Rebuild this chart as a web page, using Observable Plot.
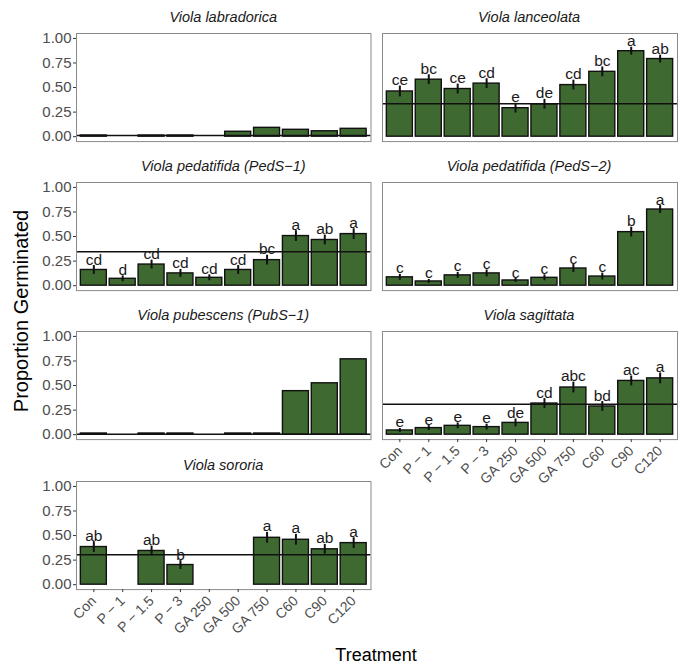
<!DOCTYPE html>
<html><head><meta charset="utf-8">
<script src="https://cdn.jsdelivr.net/npm/d3@7"></script>
<script src="https://cdn.jsdelivr.net/npm/@observablehq/plot@0.6"></script>
<style>
body{margin:0;background:#fff;font-family:"Liberation Sans",Arial,sans-serif;}
#chart{position:relative;width:681px;height:667px;overflow:hidden;background:#fff;}
#chart svg{position:absolute;overflow:visible;}
.ptitle{position:absolute;font-style:italic;font-size:14.5px;color:#1a1a1a;text-align:center;line-height:16px;white-space:nowrap;}
.axlab{position:absolute;color:#000;white-space:nowrap;line-height:22px;}
</style></head><body><div id="chart"></div>
<script>
const treatments = ["Con","P − 1","P − 1.5","P − 3","GA 250","GA 500","GA 750","C60","C90","C120"];
const speciesNames = ["Viola labradorica","Viola lanceolata","Viola pedatifida (PedS−1)","Viola pedatifida (PedS−2)","Viola pubescens (PubS−1)","Viola sagittata","Viola sororia"];

const labradoricaMean = [0.012,null,0.012,0.012,null,0.05,0.09,0.07,0.055,0.08];
const labradoricaSE = null;
const labradoricaLetters = null;
const labradoricaLine = 0.012;

const lanceolataMean = [0.46,0.58,0.485,0.54,0.29,0.33,0.525,0.66,0.87,0.79];
const lanceolataSE = [0.055,0.05,0.05,0.05,0.05,0.05,0.05,0.05,0.04,0.04];
const lanceolataLetters = ["ce","bc","ce","cd","e","de","cd","bc","a","ab"];
const lanceolataLine = 0.335;

const pedS1Mean = [0.16,0.07,0.215,0.125,0.08,0.16,0.26,0.505,0.465,0.525];
const pedS1SE = [0.045,0.03,0.045,0.04,0.03,0.045,0.05,0.055,0.05,0.055];
const pedS1Letters = ["cd","d","cd","cd","cd","cd","bc","a","ab","a"];
const pedS1Line = 0.345;

const pedS2Mean = [0.085,0.043,0.105,0.125,0.053,0.08,0.175,0.093,0.545,0.775];
const pedS2SE = [0.03,0.02,0.03,0.035,0.02,0.03,0.04,0.035,0.05,0.04];
const pedS2Letters = ["c","c","c","c","c","c","c","c","b","a"];
const pedS2Line = null;

const pubS1Mean = [0.012,null,0.012,0.012,null,0.012,0.012,0.443,0.523,0.767];
const pubS1SE = null;
const pubS1Letters = null;
const pubS1Line = 0.005;

const sagittataMean = [0.043,0.067,0.09,0.077,0.12,0.317,0.48,0.287,0.547,0.573];
const sagittataSE = [0.02,0.025,0.03,0.03,0.04,0.05,0.055,0.05,0.05,0.055];
const sagittataLetters = ["e","e","e","e","de","cd","abc","bd","ac","a"];
const sagittataLine = 0.31;

const sororiaMean = [0.383,null,0.343,0.2,null,null,0.477,0.457,0.36,0.423];
const sororiaSE = [0.055,null,0.05,0.045,null,null,0.055,0.055,0.05,0.055];
const sororiaLetters = ["ab",null,"ab","b",null,null,"a","a","ab","a"];
const sororiaLine = 0.305;

const panels = [
  {name: speciesNames[0], mean: labradoricaMean, se: labradoricaSE, letters: labradoricaLetters, line: labradoricaLine, col: 0, row: 0},
  {name: speciesNames[1], mean: lanceolataMean, se: lanceolataSE, letters: lanceolataLetters, line: lanceolataLine, col: 1, row: 0},
  {name: speciesNames[2], mean: pedS1Mean, se: pedS1SE, letters: pedS1Letters, line: pedS1Line, col: 0, row: 1},
  {name: speciesNames[3], mean: pedS2Mean, se: pedS2SE, letters: pedS2Letters, line: pedS2Line, col: 1, row: 1},
  {name: speciesNames[4], mean: pubS1Mean, se: pubS1SE, letters: pubS1Letters, line: pubS1Line, col: 0, row: 2},
  {name: speciesNames[5], mean: sagittataMean, se: sagittataSE, letters: sagittataLetters, line: sagittataLine, col: 1, row: 2, xaxis: true},
  {name: speciesNames[6], mean: sororiaMean, se: sororiaSE, letters: sororiaLetters, line: sororiaLine, col: 0, row: 3, xaxis: true}
];

const chart = document.getElementById("chart");
const colLeft = [76, 381.5];
const colWidth = [294.5, 295];
const rowTop0 = 32.8, rowStep = 149.3, panelH = 108.1;
const green = "#3e6a31";

for (const p of panels) {
  const data = treatments.map((t, i) => ({
    t, v: p.mean[i], e: p.se ? p.se[i] : null, l: p.letters ? p.letters[i] : null
  }));
  const bars = data.filter(d => d.v != null);
  const errs = bars.filter(d => d.e != null);
  const labs = bars.filter(d => d.l != null);
  const mL = p.col === 0 ? 45 : 2;
  const mR = 2, mT = 2;
  const mB = p.xaxis ? 70 : 2;
  const pTop = rowTop0 + rowStep * p.row;
  const marks = [
    Plot.barY(bars, {x: "t", y1: 0, y2: "v", fill: green, stroke: "#111", strokeWidth: 1.4})
  ];
  if (errs.length) marks.push(Plot.ruleX(errs, {x: "t", y1: d => d.v - d.e, y2: d => d.v + d.e, stroke: "#111", strokeWidth: 2}));
  if (p.line != null) marks.push(Plot.ruleY([p.line], {stroke: "#111", strokeWidth: 1.5}));
  if (labs.length) marks.push(Plot.text(labs, {x: "t", y: d => d.v + d.e, text: "l", lineAnchor: "bottom", dy: -1, fontSize: 15.5, fill: "#1a1a1a"}));
  marks.push(Plot.frame({stroke: "#8a8a8a", strokeWidth: 1}));
  if (p.col === 0) marks.push(Plot.axisY({ticks: [0, 0.25, 0.5, 0.75, 1], tickFormat: d3.format(".2f"), tickSize: 3, tickPadding: 2, fontSize: 15, fill: "#4d4d4d", stroke: "#333", label: null}));
  if (p.xaxis) marks.push(Plot.axisX({tickRotate: -45, tickSize: 3, tickPadding: 6, fontSize: 14, fill: "#4d4d4d", stroke: "#333", label: null}));
  const svg = Plot.plot({
    width: mL + colWidth[p.col] + mR,
    height: mT + panelH + mB,
    marginLeft: mL, marginRight: mR, marginTop: mT, marginBottom: mB,
    style: {fontFamily: "'Liberation Sans', Arial, sans-serif", background: "transparent", overflow: "visible"},
    x: {type: "band", domain: treatments, paddingInner: 0.1, paddingOuter: 0.15, round: false, axis: p.xaxis ? undefined : null},
    y: {domain: [-0.05, 1.05], axis: p.col === 0 ? undefined : null},
    marks
  });
  svg.style.left = (colLeft[p.col] - mL) + "px";
  svg.style.top = (pTop - mT) + "px";
  chart.appendChild(svg);
  const title = document.createElement("div");
  title.className = "ptitle";
  title.textContent = p.name;
  title.style.left = colLeft[p.col] + "px";
  title.style.width = colWidth[p.col] + "px";
  title.style.top = (pTop - 24) + "px";
  chart.appendChild(title);
}

const ylab = document.createElement("div");
ylab.className = "axlab";
ylab.textContent = "Proportion Germinated";
ylab.style.fontSize = "20px";
ylab.style.left = "21px";
ylab.style.top = "311px";
ylab.style.transform = "translate(-50%,-50%) rotate(-90deg)";
chart.appendChild(ylab);

const xlab = document.createElement("div");
xlab.className = "axlab";
xlab.textContent = "Treatment";
xlab.style.fontSize = "18px";
xlab.style.left = "376px";
xlab.style.top = "655px";
xlab.style.transform = "translate(-50%,-50%)";
chart.appendChild(xlab);
</script></body></html>
